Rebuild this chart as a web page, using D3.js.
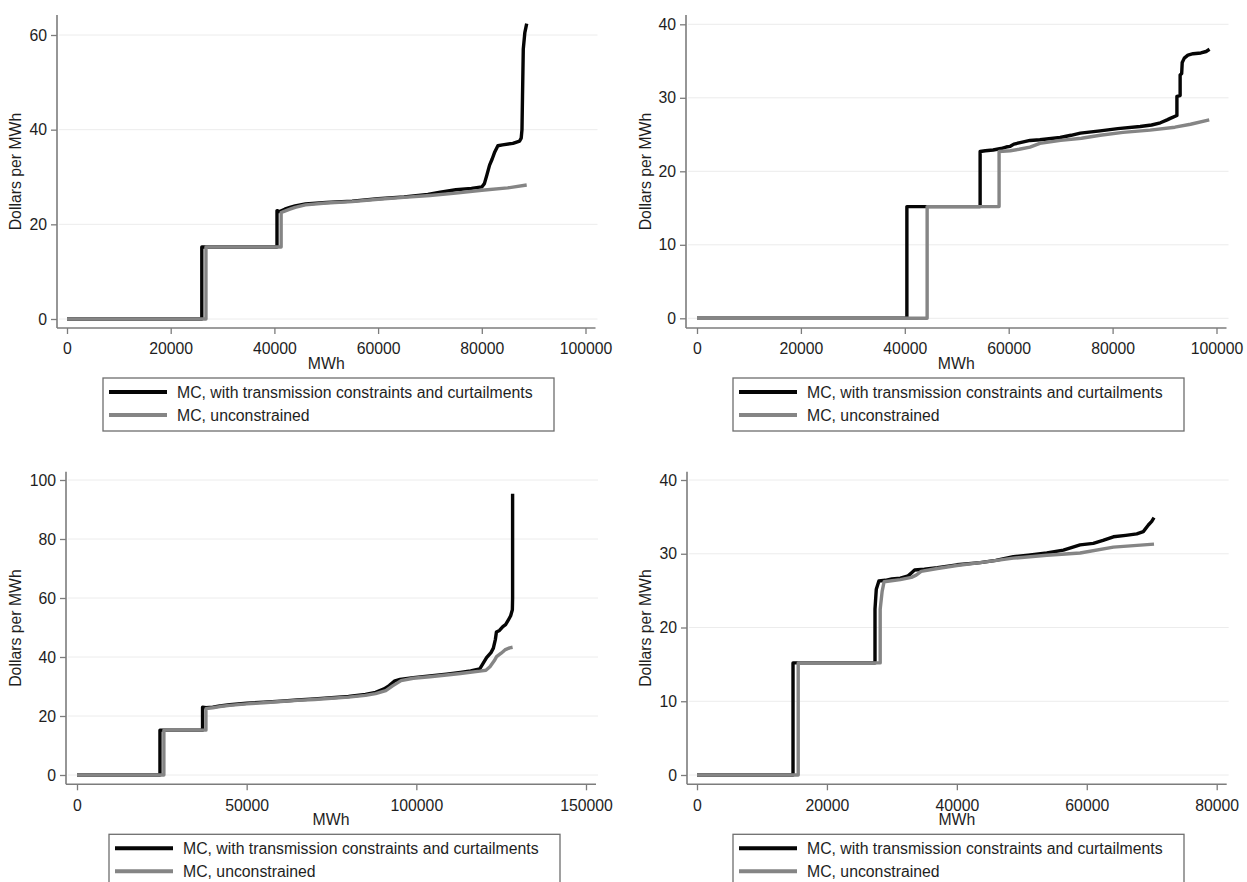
<!DOCTYPE html>
<html><head><meta charset="utf-8">
<script src="https://cdn.jsdelivr.net/npm/d3@7"></script>
<style>html,body{margin:0;padding:0;background:#fff}</style>
</head><body>
<svg id="chart" width="1247" height="882"></svg>
<script>
// ---------- DATA ----------
const seriesLabels = ["MC, with transmission constraints and curtailments", "MC, unconstrained"];
const xTitle = "MWh";
const yTitle = "Dollars per MWh";

// Panel 1 (top-left)
const p1XTicks = [0, 20000, 40000, 60000, 80000, 100000];
const p1YTicks = [0, 20, 40, 60];
const p1Constrained = [[0,0],[26000,0],[26000,15.2],[40500,15.2],[40500,22.9],[41000,22.7],[42000,23.2],[43000,23.6],[44000,23.9],[46000,24.3],[50000,24.6],[55000,24.9],[60000,25.4],[65000,25.8],[69600,26.3],[72000,26.8],[75000,27.3],[78000,27.6],[80000,27.9],[80500,28.6],[81000,30.5],[81500,32.5],[82000,33.8],[82500,35.3],[83100,36.6],[84000,36.8],[86000,37.1],[87300,37.6],[87600,38.2],[87750,40],[87850,47],[88000,57],[88300,60.5],[88660,62.4]];
const p1Unconstrained = [[0,0],[26800,0],[26800,15.2],[41300,15.2],[41300,22.5],[42000,22.8],[43000,23.2],[44000,23.6],[46000,24.1],[50000,24.5],[55000,24.8],[60000,25.3],[65000,25.7],[70000,26.1],[75000,26.6],[80000,27.2],[85000,27.7],[88660,28.3]];

// Panel 2 (top-right)
const p2XTicks = [0, 20000, 40000, 60000, 80000, 100000];
const p2YTicks = [0, 10, 20, 30, 40];
const p2Constrained = [[0,0],[40400,0],[40400,15.2],[54500,15.2],[54500,22.7],[55500,22.8],[57000,22.9],[58500,23.1],[59500,23.3],[60300,23.4],[61000,23.7],[62200,23.9],[64100,24.2],[66000,24.3],[69900,24.6],[72000,24.9],[73800,25.2],[77600,25.5],[81000,25.8],[85300,26.1],[87500,26.3],[89200,26.6],[90500,27.0],[91100,27.2],[92380,27.6],[92380,30.2],[93000,30.3],[93000,33.1],[93300,33.3],[93400,34.8],[93800,35.4],[94500,35.8],[95500,36.0],[97000,36.1],[98000,36.3],[98660,36.6]];
const p2Unconstrained = [[0,0],[44300,0],[44300,15.2],[58150,15.2],[58150,22.7],[60300,22.8],[62000,23.0],[64100,23.3],[66000,23.8],[70000,24.2],[74000,24.5],[77600,24.9],[82000,25.3],[87200,25.6],[92000,26.0],[95000,26.4],[98600,27.0]];

// Panel 3 (bottom-left)
const p3XTicks = [0, 50000, 100000, 150000];
const p3YTicks = [0, 20, 40, 60, 80, 100];
const p3Constrained = [[0,0],[24450,0],[24450,15.2],[37000,15.2],[37000,23.0],[38000,22.8],[40000,23.0],[42100,23.4],[45000,23.8],[50000,24.3],[55000,24.7],[60000,25.0],[65000,25.4],[70000,25.8],[75000,26.2],[80000,26.6],[85000,27.3],[88000,28.0],[90500,29.2],[92000,30.3],[93500,31.8],[95200,32.4],[99100,33.0],[104000,33.6],[108900,34.2],[113000,34.8],[116000,35.3],[118700,36.0],[119500,37.5],[120700,39.8],[122000,41.5],[122700,43.0],[123300,46],[123600,48.5],[124500,49.0],[125500,50.3],[126300,51],[127000,52.3],[127800,54],[128300,56],[128370,60],[128370,95.3]];
const p3Unconstrained = [[0,0],[25600,0],[25600,15.2],[38000,15.2],[38000,22.5],[40000,22.8],[42100,23.2],[45000,23.6],[50000,24.1],[55000,24.5],[60000,24.9],[65000,25.3],[70000,25.6],[75000,26.0],[80000,26.4],[85000,27.0],[88000,27.6],[91000,28.6],[93000,30.2],[95500,32.0],[99100,32.8],[104000,33.3],[108900,33.9],[113000,34.4],[118700,35.2],[120500,35.5],[121700,36.7],[123000,38.8],[123650,40.1],[125000,41.3],[126100,42.4],[127500,43.1],[128370,43.3]];

// Panel 4 (bottom-right)
const p4XTicks = [0, 20000, 40000, 60000, 80000];
const p4YTicks = [0, 10, 20, 30, 40];
const p4Constrained = [[0,0],[14780,0],[14780,15.2],[27400,15.2],[27400,22.5],[27600,25.2],[28000,26.3],[29000,26.4],[30000,26.6],[31300,26.7],[32500,27.0],[33000,27.4],[33500,27.8],[35000,27.9],[37000,28.1],[40000,28.5],[43600,28.8],[46000,29.1],[48700,29.6],[51000,29.8],[53850,30.1],[56400,30.5],[58970,31.2],[61000,31.4],[62500,31.8],[64100,32.3],[66000,32.5],[67700,32.7],[68700,33.0],[69480,33.9],[70000,34.4],[70350,34.9]];
const p4Unconstrained = [[0,0],[15580,0],[15580,15.2],[28200,15.2],[28200,22.5],[28500,24.9],[28800,26.2],[31300,26.5],[33000,26.8],[33740,27.1],[34500,27.6],[37000,28.0],[40000,28.4],[43600,28.8],[48700,29.4],[53850,29.8],[58970,30.1],[64100,30.9],[70350,31.3]];

// ---------- LAYOUT ----------
const panels = [
  {con:p1Constrained, unc:p1Unconstrained, xTicks:p1XTicks, yTicks:p1YTicks, xDom:[0,100000], yDom:[0,60],
   axisX:57, axisY:328, top:15, xRange:[67,585.5], yRange:[319,35], titleX:15, legendLeft:103},
  {con:p2Constrained, unc:p2Unconstrained, xTicks:p2XTicks, yTicks:p2YTicks, xDom:[0,100000], yDom:[0,40],
   axisX:686, axisY:328, top:15, xRange:[697,1216.5], yRange:[318.3,24.3], titleX:645, legendLeft:733},
  {con:p3Constrained, unc:p3Unconstrained, xTicks:p3XTicks, yTicks:p3YTicks, xDom:[0,150000], yDom:[0,100],
   axisX:66, axisY:784.3, top:471.7, xRange:[77,586], yRange:[775,480], titleX:15, legendLeft:109},
  {con:p4Constrained, unc:p4Unconstrained, xTicks:p4XTicks, yTicks:p4YTicks, xDom:[0,80000], yDom:[0,40],
   axisX:687, axisY:784.3, top:471.7, xRange:[697,1216.7], yRange:[775,480], titleX:645, legendLeft:733}
];

const FONT = "'Liberation Sans', Arial, Helvetica, sans-serif";
const FS = 15.8;
const TEXT = "#1e1e1e";
const AXIS = "#7c7c7c";
const GRID = "#ececec";
const BLACK = "#050505";
const GRAY = "#858585";
const LW = 3.4;

const svg = d3.select("#chart");
svg.append("rect").attr("width",1247).attr("height",882).attr("fill","#fff");

panels.forEach(p => {
  const g = svg.append("g");
  const x = d3.scaleLinear().domain(p.xDom).range(p.xRange);
  const y = d3.scaleLinear().domain(p.yDom).range(p.yRange);
  const right = p.xRange[1] + 10;

  // gridlines
  g.append("g").selectAll("line").data(p.yTicks).join("line")
    .attr("x1", p.axisX + 2).attr("x2", right + 2)
    .attr("y1", d => y(d)).attr("y2", d => y(d))
    .attr("stroke", GRID).attr("stroke-width", 1);

  // series
  const line = d3.line().x(d => x(d[0])).y(d => y(d[1]));
  g.append("path").datum(p.con).attr("d", line)
    .attr("fill","none").attr("stroke",BLACK).attr("stroke-width",LW).attr("stroke-linejoin","round");
  g.append("path").datum(p.unc).attr("d", line)
    .attr("fill","none").attr("stroke",GRAY).attr("stroke-width",LW).attr("stroke-linejoin","round");

  // axes
  const ya = g.append("g").attr("transform", `translate(${p.axisX},0)`)
    .call(d3.axisLeft(y).tickValues(p.yTicks).tickFormat(d3.format("d")).tickSize(6).tickPadding(4).tickSizeOuter(0));
  const xa = g.append("g").attr("transform", `translate(0,${p.axisY})`)
    .call(d3.axisBottom(x).tickValues(p.xTicks).tickFormat(d3.format("d")).tickSize(6).tickPadding(9).tickSizeOuter(0));
  [ya, xa].forEach(a => {
    a.select(".domain").remove();
    a.selectAll("line").attr("stroke", AXIS).attr("stroke-width", 1.3);
    a.selectAll("text").attr("fill", TEXT).style("font-family", FONT).style("font-size", FS + "px");
  });
  g.append("line").attr("x1", p.axisX).attr("x2", p.axisX).attr("y1", p.top).attr("y2", p.axisY)
    .attr("stroke", AXIS).attr("stroke-width", 1.6);
  g.append("line").attr("x1", p.axisX).attr("x2", right).attr("y1", p.axisY).attr("y2", p.axisY)
    .attr("stroke", AXIS).attr("stroke-width", 1.6);

  // titles
  g.append("text").text(xTitle)
    .attr("x", (p.axisX + right) / 2).attr("y", p.axisY + 41)
    .attr("text-anchor","middle").attr("fill",TEXT)
    .style("font-family",FONT).style("font-size",FS+"px");
  g.append("text").text(yTitle)
    .attr("transform", `translate(${p.titleX},${(p.top + p.axisY)/2}) rotate(-90)`)
    .attr("dy","0.35em").attr("text-anchor","middle").attr("fill",TEXT)
    .style("font-family",FONT).style("font-size",FS+"px");

  // legend
  const lt = p.axisY + 50;
  const lg = g.append("g").attr("transform", `translate(${p.legendLeft},${lt})`);
  lg.append("rect").attr("width", 451).attr("height", 53)
    .attr("fill","#fff").attr("stroke","#6e6e6e").attr("stroke-width",1.3);
  const cols = [BLACK, GRAY];
  seriesLabels.forEach((lab, i) => {
    const yy = 14 + i * 23;
    lg.append("line").attr("x1", 6).attr("x2", 64).attr("y1", yy).attr("y2", yy)
      .attr("stroke", cols[i]).attr("stroke-width", LW + 0.5);
    lg.append("text").text(lab).attr("x", 74).attr("y", yy).attr("dy","0.36em")
      .attr("fill",TEXT).style("font-family",FONT).style("font-size",FS+"px");
  });
});
</script>
</body></html>
